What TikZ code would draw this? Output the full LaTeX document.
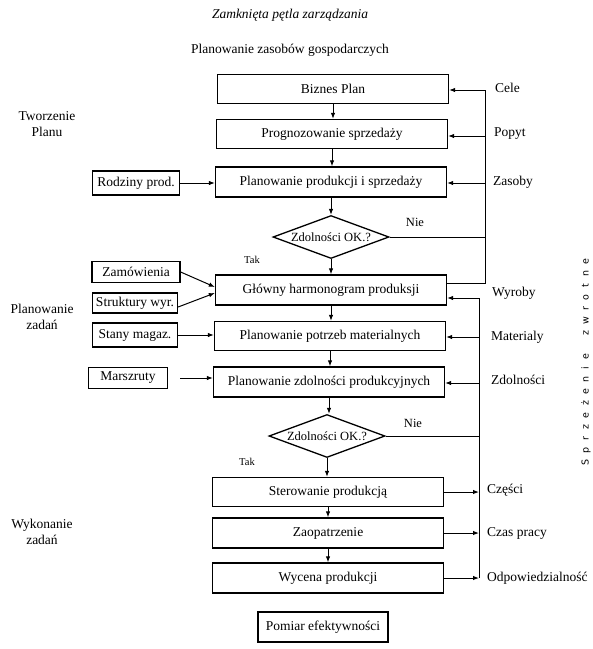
\documentclass[tikz,border=0pt]{standalone}
\usepackage{fontspec}
\setmainfont{Liberation Serif}
\newfontfamily\rotfont{DejaVu Sans}
\usetikzlibrary{shapes.geometric,arrows.meta}
\newcommand\lsbox[1]{\makebox[11.8pt]{#1}}
\begin{document}
\begin{tikzpicture}[x=1pt,y=-1pt,
  txt/.style={font=\fontsize{13.5}{15.5}\selectfont},
  mainbox/.style={draw, line width=1.3pt, minimum width=231pt, minimum height=29pt, inner sep=0pt, txt},
  sidebox/.style={draw, line width=1.3pt, minimum height=22pt, inner sep=0pt, txt},
  decision/.style={diamond, draw, line width=1.3pt, aspect=2.7, minimum width=116pt, minimum height=43pt, inner sep=0pt, font=\fontsize{12.5}{14}\selectfont},
  lbl/.style={txt, inner sep=0pt, anchor=west},
  side/.style={txt, inner sep=0pt, align=center},
  small/.style={font=\fontsize{10.5}{12}\selectfont, inner sep=0pt},
  arr/.style={-{Latex[length=6pt,width=4.5pt]}, line width=1pt},
  ln/.style={line width=1pt}]
\useasboundingbox (0,0) rectangle (593,649);

% titles
\node[txt, font=\fontsize{13.5}{15.5}\selectfont\itshape] (title) at (290,15) {Zamknięta pętla zarządzania};
\node[txt] (sub) at (290,50) {Planowanie zasobów gospodarczych};

% main column
\node[mainbox] (biz) at (333,89) {Biznes Plan};
\node[mainbox] (prog) at (332,134) {Prognozowanie sprzedaży};
\node[mainbox, minimum height=30pt] (pprod) at (331,182) {Planowanie produkcji i sprzedaży};
\node[decision] (d1) at (331,237) {Zdolności OK.?};
\node[mainbox, minimum height=30pt] (glow) at (331,290) {Główny harmonogram produksji};
\node[mainbox] (potr) at (330,336) {Planowanie potrzeb materialnych};
\node[mainbox, minimum height=30pt] (zdol) at (329,382) {Planowanie zdolności produkcyjnych};
\node[decision] (d2) at (327,436) {Zdolności OK.?};
\node[mainbox] (ster) at (328,492) {Sterowanie produkcją};
\node[mainbox, minimum height=30pt] (zaop) at (328,533) {Zaopatrzenie};
\node[mainbox, minimum height=30pt] (wyc) at (328,578) {Wycena produkcji};
\node[draw, line width=1.3pt, minimum width=130pt, minimum height=30pt, inner sep=0pt, txt] (pom) at (323,627) {Pomiar efektywności};

% vertical flow
\draw[arr] (biz.south) -- (biz.south |- prog.north);
\draw[arr] (prog.south) -- (prog.south |- pprod.north);
\draw[arr] (pprod.south) -- (pprod.south |- d1.north);
\draw[arr] (d1.south) -- (d1.south |- glow.north);
\draw[arr] (glow.south) -- (glow.south |- potr.north);
\draw[arr] (potr.south) -- (potr.south |- zdol.north);
\draw[arr] (zdol.south) -- (zdol.south |- d2.north);
\draw[arr] (d2.south) -- (d2.south |- ster.north);
\draw[arr] (ster.south) -- (ster.south |- zaop.north);
\draw[arr] (zaop.south) -- (zaop.south |- wyc.north);

\node[small] (tak1) at (252,260) {Tak};
\node[small] (tak2) at (247,462) {Tak};
\node[font=\fontsize{12.5}{14}\selectfont, inner sep=0pt] (nie1) at (415,222) {Nie};
\node[font=\fontsize{12.5}{14}\selectfont, inner sep=0pt] (nie2) at (413,423) {Nie};

% side input boxes
\node[sidebox, minimum width=87pt, minimum height=24pt] (rodz) at (136,183) {Rodziny prod.};
\node[sidebox, minimum width=88pt, minimum height=21pt] (zam) at (136,272) {Zamówienia};
\node[sidebox, minimum width=85pt, minimum height=20pt] (strk) at (135,303) {Struktury wyr.};
\node[sidebox, minimum width=85pt, minimum height=24pt] (stany) at (135,335) {Stany magaz.};
\node[sidebox, minimum width=79pt, minimum height=21pt] (marsz) at (128,378) {Marszruty};

\draw[arr] (rodz.east) -- (rodz.east -| pprod.west);
\draw[arr] (zam.east) -- ([yshift=3pt]glow.west);
\draw[arr] ([yshift=-4pt]strk.east) -- ([yshift=-3pt]glow.west);
\draw[arr] (stany.east) -- (stany.east -| potr.west);
\draw[arr, shorten <=12pt] (marsz.east) -- (marsz.east -| zdol.west);

% left section labels
\node[side] (tw) at (47,124) {Tworzenie\\Planu};
\node[side] (pz) at (42,317) {Planowanie\\zadań};
\node[side] (wz) at (42,532) {Wykonanie\\zadań};

% upper feedback loop
\coordinate (ucele) at (485,90);
\coordinate (upop) at (485,136);
\coordinate (uzas) at (485,183);
\draw[ln] ([yshift=7pt]glow.east) -- ([yshift=7pt]glow.east -| ucele) -- (ucele);
\draw[arr] (ucele) -- (ucele -| biz.east);
\draw[arr] (upop) -- (upop -| prog.east);
\draw[arr] (uzas) -- (uzas -| pprod.east);
\draw[ln] (d1.east) -- (d1.east -| ucele);

% lower feedback loop
\coordinate (lwyr) at (479,298);
\coordinate (lmat) at (479,337);
\coordinate (lzdo) at (479,383);
\coordinate (lodp) at (479,578);
\draw[ln] (lwyr) -- (lodp);
\draw[arr] (lwyr) -- (lwyr -| glow.east);
\draw[arr] (lmat) -- (lmat -| potr.east);
\draw[arr] (lzdo) -- (lzdo -| zdol.east);
\draw[ln] (d2.east) -- (d2.east -| lwyr);
\draw[arr] (ster.east) -- (ster.east -| lwyr);
\draw[arr] (zaop.east) -- (zaop.east -| lwyr);
\draw[arr] (wyc.east) -- (wyc.east -| lwyr);

% right labels
\node[lbl] (cele) at (495,88) {Cele};
\node[lbl] (popyt) at (494,134) {Popyt};
\node[lbl] (zasoby) at (493,182) {Zasoby};
\node[lbl] (wyroby) at (492,293) {Wyroby};
\node[lbl] (mat) at (491,337) {Materialy};
\node[lbl] (zdo) at (491,380) {Zdolności};
\node[lbl] (czesci) at (487,490) {Części};
\node[lbl] (czas) at (487,533) {Czas pracy};
\node[lbl] (odp) at (487,578) {Odpowiedzialność};

% rotated feedback text
\node[rotate=90, inner sep=0pt, font=\rotfont\fontsize{9.5}{11}\selectfont] (sprz) at (586,362)
  {\lsbox{S}\lsbox{p}\lsbox{r}\lsbox{z}\lsbox{e}\lsbox{ż}\lsbox{e}\lsbox{n}\lsbox{i}\lsbox{e}\hspace{11.8pt}\lsbox{z}\lsbox{w}\lsbox{r}\lsbox{o}\lsbox{t}\lsbox{n}\lsbox{e}};
\end{tikzpicture}
\end{document}
